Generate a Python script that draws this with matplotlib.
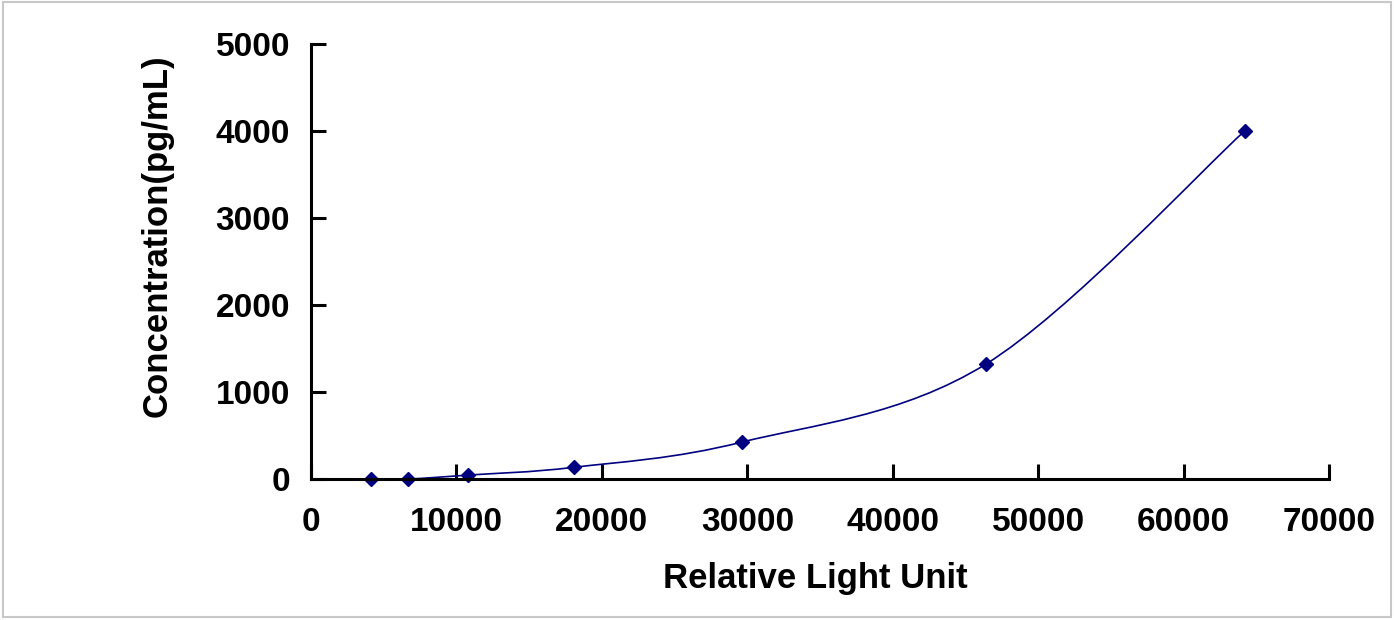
import numpy as np
from matplotlib import pyplot as plt
from matplotlib.path import Path
from matplotlib.patches import PathPatch, Rectangle

# standard curve readings
rlu = [4100, 6700, 10800, 18100, 29650, 46400, 64200]
conc = [0, 0, 45, 135, 425, 1320, 4000]
x_ticks = [0, 10000, 20000, 30000, 40000, 50000, 60000, 70000]
y_ticks = [0, 1000, 2000, 3000, 4000, 5000]

NAVY = '#000080'
FONT = 'Liberation Sans'

plt.rcParams['font.family'] = FONT
plt.rcParams['font.weight'] = 'bold'


def smooth_path(xs, ys):
    """Excel-style smoothed line: Bezier segments with Catmull-Rom controls."""
    pts = np.column_stack([xs, ys]).astype(float)
    ext = np.vstack([pts[0], pts, pts[-1]])
    verts = [pts[0]]
    codes = [Path.MOVETO]
    for i in range(len(pts) - 1):
        p0, p1, p2, p3 = ext[i], ext[i + 1], ext[i + 2], ext[i + 3]
        verts += [p1 + (p2 - p0) / 6, p2 - (p3 - p1) / 6, p2]
        codes += [Path.CURVE4] * 3
    return Path(verts, codes)


fig = plt.figure(figsize=(13.94, 6.2), dpi=100)
ax = fig.add_axes([311 / 1394, 1 - 479 / 620, 1018 / 1394, 435 / 620])

ax.add_patch(PathPatch(smooth_path(rlu, conc), facecolor='none',
                       edgecolor=NAVY, lw=1.2, zorder=3))
ax.plot(rlu, conc, linestyle='none', marker='D', markersize=7.5,
        color=NAVY, zorder=4, clip_on=False)

ax.set_xlim(0, 70000)
ax.set_ylim(0, 5000)
ax.set_xticks(x_ticks)
ax.set_yticks(y_ticks)

for side in ('top', 'right'):
    ax.spines[side].set_visible(False)
for side in ('left', 'bottom'):
    ax.spines[side].set_linewidth(2.2)
    ax.spines[side].set_zorder(5)

ax.tick_params(direction='in', length=11, width=2.2, labelsize=24)
ax.tick_params(axis='x', pad=20)
ax.tick_params(axis='y', pad=15)
for lab in ax.get_xticklabels() + ax.get_yticklabels():
    lab.set_fontweight('bold')

ax.set_xlabel('Relative Light Unit', fontsize=25, fontweight='bold')
ax.set_ylabel('Concentration(pg/mL)', fontsize=25, fontweight='bold')
ax.xaxis.set_label_coords(0.495, -0.19)
ax.yaxis.set_label_coords(-0.135, 0.56)
ax.yaxis.label.set_va('bottom')

# thin grey frame round the chart area
fig.patches.append(Rectangle((3 / 1394, 3 / 620), 1388 / 1394, 615 / 620,
                             transform=fig.transFigure, fill=False,
                             edgecolor='#c8c8c8', lw=1.5))

fig.savefig('out.png', dpi=100)
